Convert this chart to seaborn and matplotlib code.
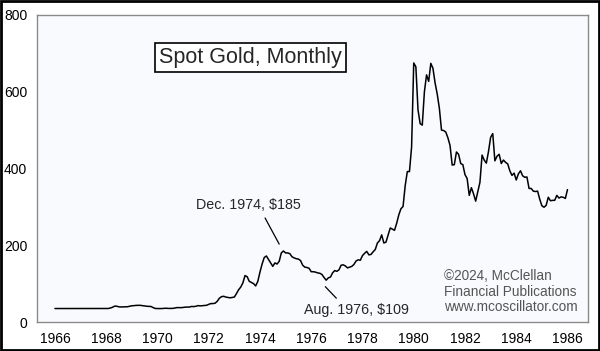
import numpy as np
import pandas as pd
import seaborn as sns
import matplotlib
matplotlib.use("Agg")
import matplotlib.pyplot as plt
from matplotlib.patches import Rectangle

sns.set_theme(style="white")
plt.rcParams['font.family'] = ['Liberation Sans', 'DejaVu Sans']

# monthly spot gold, Jan 1966 .. Jan 1986
p1966 = [35.1] * 12
p1967 = [35.1] * 12
p1968 = [35.2, 35.2, 36.5, 38.5, 41.5, 41.0, 39.5, 39.2, 39.5, 39.6, 39.8, 41.1]
p1969 = [42.3, 42.6, 43.3, 43.4, 43.5, 42.5, 42.0, 41.0, 40.8, 40.4, 37.5, 35.2]
p1970 = [35.0, 35.0, 35.1, 35.6, 35.9, 35.4, 35.3, 35.4, 36.2, 37.5, 37.4, 37.4]
p1971 = [37.9, 38.7, 38.9, 39.0, 40.5, 40.1, 41.0, 42.7, 42.0, 42.5, 42.9, 43.5]
p1972 = [46, 48, 48, 49, 54, 62, 66, 67, 65, 64, 63, 64]
p1973 = [65, 74, 84, 91, 102, 121, 118, 106, 103, 100, 94, 106]
p1974 = [130, 151, 168, 172, 163, 154, 145, 154, 151, 158, 180, 185]
p1975 = [180, 180, 178, 170, 167, 165, 164, 160, 148, 143, 142, 140]
p1976 = [131, 131, 130, 128, 127, 124, 116, 109, 115, 117, 128, 134]
p1977 = [132, 136, 148, 149, 146, 141, 143, 145, 150, 159, 162, 161]
p1978 = [173, 179, 184, 175, 176, 183, 189, 206, 212, 227, 206, 208]
p1979 = [227, 245, 242, 239, 257, 279, 295, 301, 355, 392, 392, 456]
p1980 = [675, 665, 553, 517, 513, 600, 644, 627, 674, 661, 623, 594]
p1981 = [557, 500, 499, 495, 480, 460, 409, 410, 443, 437, 413, 410]
p1982 = [384, 374, 330, 350, 334, 315, 339, 364, 435, 422, 414, 444]
p1983 = [481, 491, 420, 432, 437, 413, 422, 416, 412, 394, 382, 388]
p1984 = [370, 386, 394, 381, 377, 378, 348, 348, 341, 340, 341, 320]
p1985 = [303, 299, 304, 325, 316, 317, 317, 330, 323, 326, 325, 322]
p1986 = [345]

prices = (p1966 + p1967 + p1968 + p1969 + p1970 + p1971 + p1972 + p1973 + p1974
          + p1975 + p1976 + p1977 + p1978 + p1979 + p1980 + p1981 + p1982
          + p1983 + p1984 + p1985 + p1986)
years = 1966 + np.arange(len(prices)) / 12.0
df = pd.DataFrame({"year": years, "price": prices})

fig = plt.figure(figsize=(6, 3.51), dpi=100)
fig.patch.set_facecolor("white")
ax = fig.add_axes([37 / 600, 1 - 322 / 351, 551 / 600, 307 / 351])
ax.set_facecolor("#f9fafd")

sns.lineplot(data=df, x="year", y="price", ax=ax, color="black", linewidth=1.1)

ax.set_xlim(1965.3, 1986.8)
ax.set_ylim(0, 800)
ax.set_xticks(range(1966, 1987, 2))
ax.set_yticks([0, 200, 400, 600, 800])
ax.set_xlabel("")
ax.set_ylabel("")
for s in ax.spines.values():
    s.set_color("#8a8a8a")
    s.set_linewidth(1)
ax.tick_params(axis="x", length=0, pad=7, labelsize=10, colors="black")
ax.tick_params(axis="y", direction="in", length=5, width=1, color="#8a8a8a",
               pad=7, labelsize=10, labelcolor="black")

ax.text(0.222, 0.862, "Spot Gold, Monthly", transform=ax.transAxes, fontsize=15.5,
        va="center", ha="left",
        bbox=dict(boxstyle="square,pad=0.2", fc="white", ec="black", lw=1.2))

ax.text(1973.54, 305, "Dec. 1974, $185", fontsize=10.3, ha="center", va="center")
ax.plot([1974.2, 1974.75], [271, 203], color="black", lw=0.9)
ax.text(1977.75, 31, "Aug. 1976, $109", fontsize=10.3, ha="center", va="center")
ax.plot([1976.55, 1976.98], [92, 62], color="black", lw=0.9)

ax.text(1981.18, 137, "\u00a92024, McClellan\nFinancial Publications\nwww.mcoscillator.com",
        fontsize=9.8, color="#555555", ha="left", va="top", linespacing=1.1)

fig.patches.append(Rectangle((0.002, 0.003), 0.996, 0.994, transform=fig.transFigure,
                             fill=False, ec="black", lw=2))

fig.savefig("out.png", dpi=100)
